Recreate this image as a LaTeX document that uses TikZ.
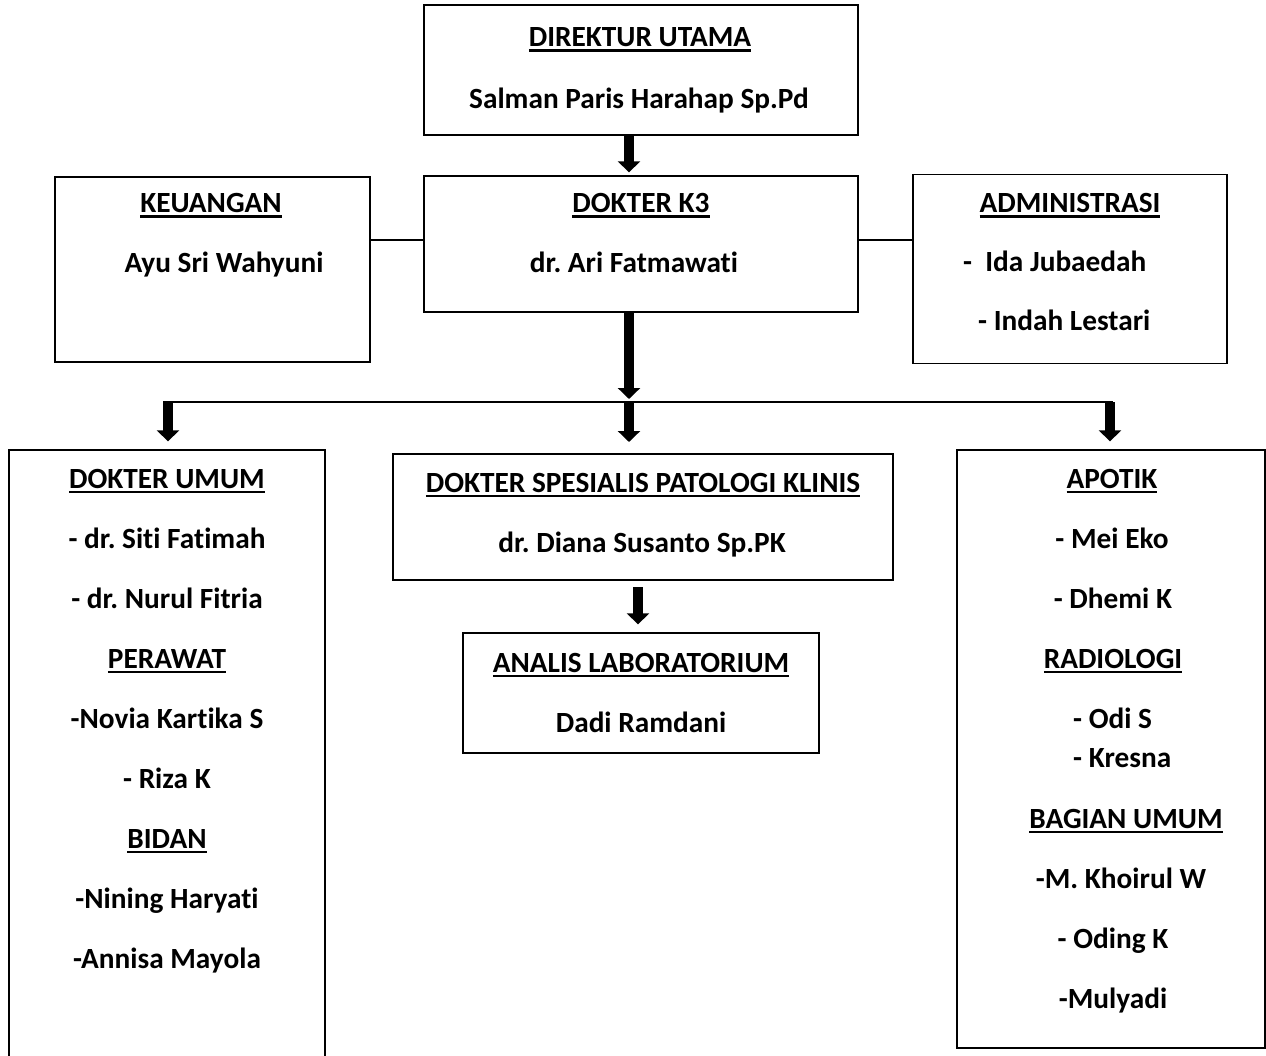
\documentclass[tikz,border=0pt]{standalone}
\usepackage{fontspec}
\setmainfont{Carlito}[Ligatures=NoCommon]
\usetikzlibrary{arrows.meta}
\frenchspacing
\newcommand\myul[1]{\setbox0=\hbox{#1}\leavevmode\rlap{\copy0}\vrule width\wd0 height -2.5pt depth 5.3pt\relax}
\tikzset{
  box/.style={draw=black, line width=1.3pt, inner sep=0pt, fill=none},
  txt/.style={inner sep=0pt, anchor=base, font=\fontsize{29.3}{35}\selectfont\bfseries},
  txtl/.style={txt, anchor=base west},
  blockarrow/.style={line width=10.5pt, -{Triangle[width=22pt,length=11pt]}},
  link/.style={line width=1.5pt}
}
\begin{document}
\begin{tikzpicture}[x=1pt,y=-1pt]
\useasboundingbox (0,0) rectangle (1266,1056);
\clip (0,0) rectangle (1266,1056);
% boxes
\node[box, minimum width=434pt, minimum height=130pt] (top) at (641,70) {};
\node[box, minimum width=315pt, minimum height=185pt] (keu) at (212.5,269.5) {};
\node[box, minimum width=434pt, minimum height=136pt] (dk3) at (641,244) {};
\node[box, minimum width=314pt, minimum height=189pt] (adm) at (1070,269) {};
\node[box, minimum width=316pt, minimum height=630pt] (umum) at (167,765) {};
\node[box, minimum width=500pt, minimum height=126pt] (pat) at (643,517) {};
\node[box, minimum width=356pt, minimum height=120pt] (anal) at (641,693) {};
\node[box, minimum width=308pt, minimum height=598pt] (apo) at (1111,749) {};
% texts
\node[txt] (t1) at (640,47) {\myul{DIREKTUR UTAMA}};
\node[txt] (t2) at (639,109) {Salman Paris Harahap Sp.Pd};
\node[txt] (k1) at (211,213) {\myul{KEUANGAN}};
\node[txt] (k2) at (224,273) {Ayu Sri Wahyuni};
\node[txt] (d1) at (641,213) {\myul{DOKTER K3}};
\node[txt] (d2) at (634,273) {dr. Ari Fatmawati};
\node[txt] (a1) at (1070,213) {\myul{ADMINISTRASI}};
\node[txtl] (a2) at (963,272) {-\ \ Ida Jubaedah};
\node[txtl] (a3) at (978,331) {- Indah Lestari};
\node[txt] (u1) at (167,488) {\myul{DOKTER UMUM}};
\node[txt] (u2) at (167,548) {- dr. Siti Fatimah};
\node[txt] (u3) at (167,608) {- dr. Nurul Fitria};
\node[txt] (u4) at (167,668) {\myul{PERAWAT}};
\node[txt] (u5) at (167,728) {-Novia Kartika S};
\node[txt] (u6) at (167,788) {- Riza K};
\node[txt] (u7) at (167,848) {\myul{BIDAN}};
\node[txt] (u8) at (167,908) {-Nining Haryati};
\node[txt] (u9) at (167,968) {-Annisa Mayola};
\node[txt] (p1) at (643,492) {\myul{DOKTER SPESIALIS PATOLOGI KLINIS}};
\node[txt] (p2) at (642,552) {dr. Diana Susanto Sp.PK};
\node[txt] (l1) at (641,672) {\myul{ANALIS LABORATORIUM}};
\node[txt] (l2) at (641,732) {Dadi Ramdani};
\node[txt] (r1) at (1112,488) {\myul{APOTIK}};
\node[txt] (r2) at (1112,548) {- Mei Eko};
\node[txt] (r3) at (1113,608) {- Dhemi K};
\node[txt] (r4) at (1113,668) {\myul{RADIOLOGI}};
\node[txtl] (r5) at (1073,728) {- Odi S};
\node[txtl] (r6) at (1073,767) {- Kresna};
\node[txt] (r7) at (1126,828) {\myul{BAGIAN UMUM}};
\node[txt] (r8) at (1121,888) {-M. Khoirul W};
\node[txt] (r9) at (1113,948) {- Oding K};
\node[txt] (r10) at (1113,1008) {-Mulyadi};
% connectors
\draw[link] (keu.east |- 0,240) -- (dk3.west |- 0,240);
\draw[link] (dk3.east |- 0,240) -- (adm.west |- 0,240);
\draw[blockarrow] ([xshift=-12pt]top.south) -- ([xshift=-12pt,yshift=3pt]dk3.north);
\coordinate (jn) at (629,402);
\coordinate (hl) at (163,402);
\coordinate (hr) at (1113,402);
\draw[link] (hl) -- (hr);
\draw[blockarrow] ([xshift=-12pt]dk3.south) -- ([yshift=3pt]jn);
\draw[blockarrow] (168,402) -- ([yshift=8pt]umum.north -| 168,0);
\draw[blockarrow] (jn) -- (629,442);
\draw[blockarrow] (1110,402) -- ([yshift=8pt]apo.north -| 1110,0);
\draw[blockarrow] (638,587) -- ([xshift=-3pt,yshift=8pt]anal.north);
\end{tikzpicture}
\end{document}
